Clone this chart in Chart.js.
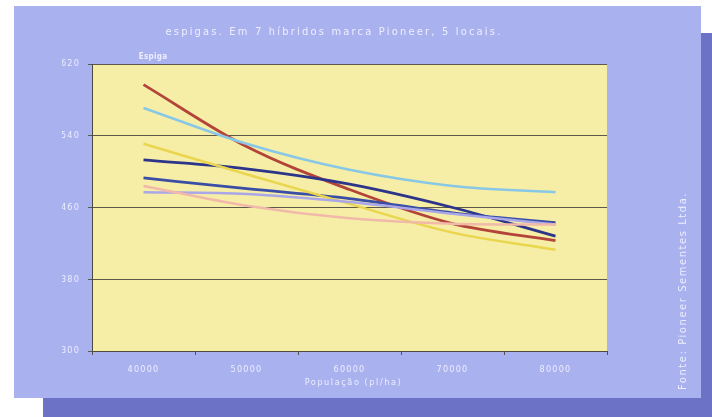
<!DOCTYPE html>
<html lang="pt">
<head>
<meta charset="utf-8">
<title>Espigas por população</title>
<script src="https://cdn.jsdelivr.net/npm/chart.js@4.4.1/dist/chart.umd.min.js"></script>
<style>
  html, body { margin: 0; padding: 0; background: #ffffff; }
  #chart { display: block; }
</style>
</head>
<body>
<canvas id="chart" width="712" height="417"></canvas>
<script>
// População de plantas (pl/ha)
const populacoes = ['40000', '50000', '60000', '70000', '80000'];

// Espigas por híbrido, uma curva de ajuste por híbrido
const hibrido1 = [597, 528, 480, 442, 423];
const hibrido2 = [571, 531, 502, 484, 477];
const hibrido3 = [531, 497, 464, 432, 413];
const hibrido4 = [513, 503, 486, 460, 428];
const hibrido5 = [493, 481, 470, 454, 443];
const hibrido6 = [477, 475, 466, 453, 441];
const hibrido7 = [484, 462, 448, 442, 441];

// Escala do eixo de espigas
const eixoMin = 300;
const eixoMax = 620;
const eixoPasso = 80;

const FONT = '"DejaVu Sans Condensed", "Liberation Sans Narrow", "Roboto", sans-serif';
const TEXT = '#eceeff';

function serie(label, data, color, width) {
  return {
    label, data,
    borderColor: color,
    backgroundColor: color,
    borderWidth: width,
    pointRadius: 0,
    pointHoverRadius: 0,
    fill: false,
    tension: 0.4,
    cubicInterpolationMode: 'monotone'
  };
}

const fundo = {
  id: 'fundo',
  beforeDraw(chart) {
    const { ctx, chartArea: a } = chart;
    ctx.save();
    ctx.fillStyle = '#ffffff';
    ctx.fillRect(0, 0, chart.width, chart.height);
    // sombra do painel
    ctx.fillStyle = '#6c72c6';
    ctx.fillRect(43, 33, 712 - 43, 417 - 33);
    // painel
    ctx.fillStyle = '#aab1ef';
    ctx.fillRect(14, 6, 701 - 14, 398 - 6);
    // área do gráfico
    ctx.fillStyle = '#f6eea6';
    ctx.fillRect(a.left, a.top, a.right - a.left, a.bottom - a.top);
    ctx.restore();
    ctx.letterSpacing = '1.2px';
  },
  afterDraw(chart) {
    const { ctx, chartArea: a } = chart;
    ctx.save();
    ctx.fillStyle = TEXT;
    ctx.textBaseline = 'middle';
    ctx.textAlign = 'center';

    ctx.letterSpacing = '2.2px';
    ctx.font = '11px ' + FONT;
    ctx.fillText('espigas. Em 7 híbridos marca Pioneer, 5 locais.', 334, 32);

    ctx.letterSpacing = '0.3px';
    ctx.font = 'bold 8px ' + FONT;
    ctx.fillText('Espiga', 153, 57);

    ctx.letterSpacing = '1.6px';
    ctx.font = '9px ' + FONT;
    ctx.fillText('População (pl/ha)', (a.left + a.right) / 2 + 4, 383);

    ctx.translate(683, 291);
    ctx.rotate(-Math.PI / 2);
    ctx.letterSpacing = '1.6px';
    ctx.font = '11px ' + FONT;
    ctx.fillText('Fonte: Pioneer Sementes Ltda.', 0, 0);
    ctx.restore();
  }
};

new Chart(document.getElementById('chart'), {
  type: 'line',
  data: {
    labels: populacoes,
    datasets: [
      serie('Híbrido 7', hibrido7, '#f1b9a9', 2.5),
      serie('Híbrido 6', hibrido6, '#aaa7e8', 2.5),
      serie('Híbrido 3', hibrido3, '#e9d54e', 2.5),
      serie('Híbrido 2', hibrido2, '#88c7e6', 2.5),
      serie('Híbrido 5', hibrido5, '#3b4ea6', 2.8),
      serie('Híbrido 4', hibrido4, '#2c3589', 2.8),
      serie('Híbrido 1', hibrido1, '#b3443a', 2.8)
    ]
  },
  options: {
    responsive: false,
    animation: false,
    devicePixelRatio: 1,
    layout: { padding: { left: 62, right: 105, top: 64, bottom: 0 } },
    plugins: {
      legend: { display: false },
      title: { display: false },
      tooltip: { enabled: false }
    },
    scales: {
      x: {
        type: 'category',
        offset: true,
        afterFit(scale) { scale.height = 66; },
        grid: {
          offset: true,
          drawOnChartArea: false,
          drawTicks: true,
          tickLength: 4,
          color: '#55524a'
        },
        border: { display: true, color: '#4d4a40', width: 1 },
        ticks: {
          color: TEXT,
          padding: 9,
          maxRotation: 0,
          font: { family: FONT, size: 9 }
        }
      },
      y: {
        min: eixoMin,
        max: eixoMax,
        afterFit(scale) { scale.width = 30; },
        grid: {
          color: '#5e5a4a',
          lineWidth: 1,
          drawTicks: true,
          tickLength: 4
        },
        border: { display: true, color: '#4d4a40', width: 1 },
        ticks: {
          stepSize: eixoPasso,
          color: TEXT,
          padding: 8,
          font: { family: FONT, size: 9 }
        }
      }
    }
  },
  plugins: [fundo]
});
</script>
</body>
</html>
